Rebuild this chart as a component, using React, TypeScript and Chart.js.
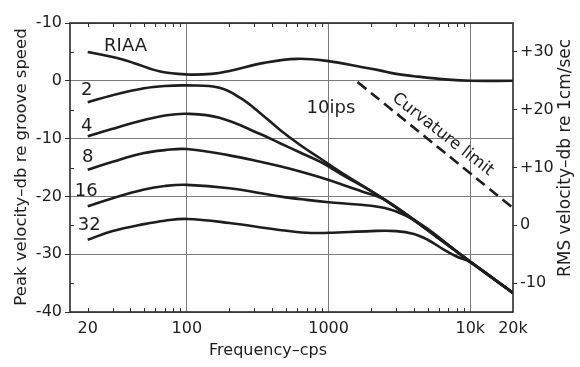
import React, { useEffect, useRef } from "react";
import { Chart, registerables } from "chart.js";
Chart.register(...registerables);

// ---- data (frequency in cps, level in dB re groove speed) ----
const riaaFreq = [20, 30, 42, 65, 100, 150, 200, 350, 600, 1000, 1700, 2300, 3000, 4000, 7000, 10000, 20000];
const riaaDb = [5.0, 4.1, 3.1, 1.6, 1.1, 1.2, 1.7, 3.1, 3.8, 3.4, 2.4, 1.8, 1.2, 0.8, 0.2, 0.0, 0.0];

const c2Freq = [20, 30, 50, 70, 100, 170, 240, 330, 455, 630, 870, 1200, 2500, 5800, 10000, 20000];
const c2Db = [-3.7, -2.5, -1.3, -0.9, -0.8, -1.2, -3.0, -5.6, -8.5, -11.1, -13.4, -15.7, -20.6, -27.0, -31.3, -36.7];

const c4Freq = [20, 30, 50, 70, 100, 170, 330, 455, 630, 870, 1200, 2500, 5800, 10000, 20000];
const c4Db = [-9.6, -8.3, -6.8, -6.0, -5.7, -6.4, -9.2, -10.8, -12.4, -14.0, -16.0, -20.6, -27.0, -31.3, -36.7];

const c8Freq = [20, 30, 50, 70, 100, 200, 330, 455, 630, 870, 1200, 1700, 2500, 5800, 10000, 20000];
const c8Db = [-15.4, -14.0, -12.5, -12.0, -11.8, -12.9, -14.0, -14.8, -15.7, -16.7, -17.8, -19.1, -20.6, -27.0, -31.3, -36.7];

const c16Freq = [20, 30, 50, 70, 100, 200, 450, 700, 1000, 1600, 2500, 3500, 5000, 7000, 10000, 20000];
const c16Db = [-21.7, -20.3, -18.8, -18.2, -18.0, -18.6, -20.0, -20.6, -21.0, -21.4, -22.0, -23.3, -25.6, -28.4, -31.3, -36.7];

const c32Freq = [20, 30, 50, 70, 100, 200, 450, 700, 1000, 2000, 3000, 4000, 5000, 6500, 8000, 10000, 20000];
const c32Db = [-27.5, -26.0, -24.8, -24.2, -23.9, -24.6, -25.8, -26.3, -26.3, -26.0, -26.0, -26.5, -27.5, -29.2, -30.4, -31.4, -36.7];

const curvatureFreq = [1600, 20000];
const curvatureDb = [-0.2, -22.0];

// ---- axes ----
const xTickValues = [20, 100, 1000, 10000, 20000];
const xTickLabels = ["20", "100", "1000", "10k", "20k"];
const xGridValues = [100, 1000, 10000];
const xMinorValues = [20, 30, 40, 50, 60, 70, 80, 90, 200, 300, 400, 500, 600, 700, 800, 900, 2000, 3000, 4000, 5000, 6000, 7000, 8000, 9000];
const leftTickValues = [10, 0, -10, -20, -30, -40];
const leftTickLabels = ["-10", "0", "-10", "-20", "-30", "-40"];
const leftMinorValues = [5, -5, -15, -25, -35];
const rightTickValues = [30, 20, 10, 0, -10];
const rightTickLabels = ["+30", "+20", "+10", "0", "-10"];
const rightOffset = 25; // RMS scale = peak scale + 25 dB

const curveLabels = [
  { text: "RIAA", f: 37, v: 6.0 },
  { text: "2", f: 19.7, v: -1.6 },
  { text: "4", f: 19.7, v: -7.8 },
  { text: "8", f: 20, v: -13.2 },
  { text: "16", f: 19.5, v: -19.2 },
  { text: "32", f: 20.5, v: -25.0 },
  { text: "10ips", f: 1040, v: -4.7 },
];

const FONT = "'DejaVu Sans', sans-serif";
const INK = "#1e1e1e";

const pts = (fs: number[], ds: number[]) => fs.map((f, i) => ({ x: f, y: ds[i] }));

const overlay = {
  id: "overlay",
  afterDraw(chart: any) {
    const { ctx, chartArea: a, scales } = chart;
    const xs = scales.x, ys = scales.y;
    ctx.save();
    ctx.strokeStyle = "#2a2a2a";
    ctx.lineWidth = 1.6;
    ctx.strokeRect(a.left, a.top, a.right - a.left, a.bottom - a.top);
    ctx.lineWidth = 1;
    ctx.strokeStyle = "#333";
    ctx.beginPath();
    for (const f of xMinorValues) {
      const px = Math.round(xs.getPixelForValue(f)) + 0.5;
      ctx.moveTo(px, a.bottom);
      ctx.lineTo(px, a.bottom - 4);
      ctx.moveTo(px, a.top);
      ctx.lineTo(px, a.top + 4);
    }
    for (const v of leftMinorValues) {
      const py = Math.round(ys.getPixelForValue(v)) + 0.5;
      ctx.moveTo(a.left, py);
      ctx.lineTo(a.left + 4, py);
    }
    ctx.stroke();

    ctx.fillStyle = INK;
    ctx.font = `18px ${FONT}`;
    ctx.textAlign = "center";
    ctx.textBaseline = "middle";
    for (const l of curveLabels) {
      ctx.fillText(l.text, xs.getPixelForValue(l.f), ys.getPixelForValue(l.v));
    }
    ctx.save();
    ctx.translate(xs.getPixelForValue(6400), ys.getPixelForValue(-9.3));
    ctx.rotate((38 * Math.PI) / 180);
    ctx.font = `16.5px ${FONT}`;
    ctx.fillText("Curvature limit", 0, 0);
    ctx.restore();

    ctx.font = `16px ${FONT}`;
    ctx.fillText("Frequency\u2013cps", 268, 351);
    ctx.save();
    ctx.translate(22, 167);
    ctx.rotate(-Math.PI / 2);
    ctx.font = `16.5px ${FONT}`;
    ctx.fillText("Peak velocity\u2013db re groove speed", 0, 0);
    ctx.restore();
    ctx.save();
    ctx.translate(566, 158);
    ctx.rotate(-Math.PI / 2);
    ctx.font = `17px ${FONT}`;
    ctx.fillText("RMS velocity\u2013db re 1cm/sec", 0, 0);
    ctx.restore();
    ctx.restore();
  },
};

export default function App() {
  const ref = useRef<HTMLCanvasElement | null>(null);
  useEffect(() => {
    if (!ref.current) return;
    const line = (label: string, fs: number[], ds: number[], dash: number[] = []) => ({
      label,
      data: pts(fs, ds),
      borderColor: INK,
      borderWidth: 2.6,
      borderDash: dash,
      pointRadius: 0,
      fill: false,
      tension: 0.4,
    });
    const chart = new Chart(ref.current, {
      type: "line",
      data: {
        datasets: [
          line("RIAA", riaaFreq, riaaDb),
          line("2", c2Freq, c2Db),
          line("4", c4Freq, c4Db),
          line("8", c8Freq, c8Db),
          line("16", c16Freq, c16Db),
          line("32", c32Freq, c32Db),
          line("Curvature limit", curvatureFreq, curvatureDb, [11, 6]),
        ],
      },
      options: {
        animation: false,
        responsive: false,
        devicePixelRatio: 1,
        layout: { padding: { top: 23, left: 0, right: 0, bottom: 0 } },
        plugins: { legend: { display: false }, tooltip: { enabled: false } },
        scales: {
          x: {
            type: "logarithmic",
            min: 15,
            max: 20000,
            afterBuildTicks: (s: any) => {
              s.ticks = xTickValues.map((v) => ({ value: v }));
            },
            afterFit: (s: any) => {
              s.height = 55;
            },
            ticks: {
              autoSkip: false,
              maxRotation: 0,
              padding: 7,
              color: INK,
              font: { family: FONT, size: 16 },
              callback: (v: any) => {
                const i = xTickValues.indexOf(Number(v));
                return i >= 0 ? xTickLabels[i] : "";
              },
            },
            grid: {
              drawTicks: false,
              color: (c: any) => (c.tick && xGridValues.includes(c.tick.value) ? "#7a7a7a" : "rgba(0,0,0,0)"),
              lineWidth: 1,
            },
            border: { display: false },
          },
          y: {
            type: "linear",
            position: "left",
            min: -40,
            max: 10,
            afterBuildTicks: (s: any) => {
              s.ticks = [...leftTickValues].reverse().map((v) => ({ value: v }));
            },
            afterFit: (s: any) => {
              s.width = 70;
            },
            ticks: {
              padding: 3,
              color: INK,
              font: { family: FONT, size: 16 },
              callback: (v: any) => {
                const i = leftTickValues.indexOf(Number(v));
                return i >= 0 ? leftTickLabels[i] : "";
              },
            },
            grid: { color: "#7a7a7a", lineWidth: 1, tickLength: 5, tickColor: "#333" },
            border: { display: false },
          },
          y2: {
            type: "linear",
            position: "right",
            min: -40 + rightOffset,
            max: 10 + rightOffset,
            afterBuildTicks: (s: any) => {
              s.ticks = [...rightTickValues].reverse().map((v) => ({ value: v }));
            },
            afterFit: (s: any) => {
              s.width = 67;
            },
            ticks: {
              padding: 3,
              color: INK,
              font: { family: FONT, size: 16 },
              callback: (v: any) => {
                const i = rightTickValues.indexOf(Number(v));
                return i >= 0 ? rightTickLabels[i] : "";
              },
            },
            grid: { drawOnChartArea: false, tickLength: 4, tickColor: "#333" },
            border: { display: false },
          },
        },
      },
      plugins: [overlay],
    } as any);
    return () => chart.destroy();
  }, []);
  return (
    <div style={{ position: "absolute", left: 0, top: 0, width: 580, height: 367, background: "#fff" }}>
      <canvas ref={ref} width={580} height={367} />
    </div>
  );
}
